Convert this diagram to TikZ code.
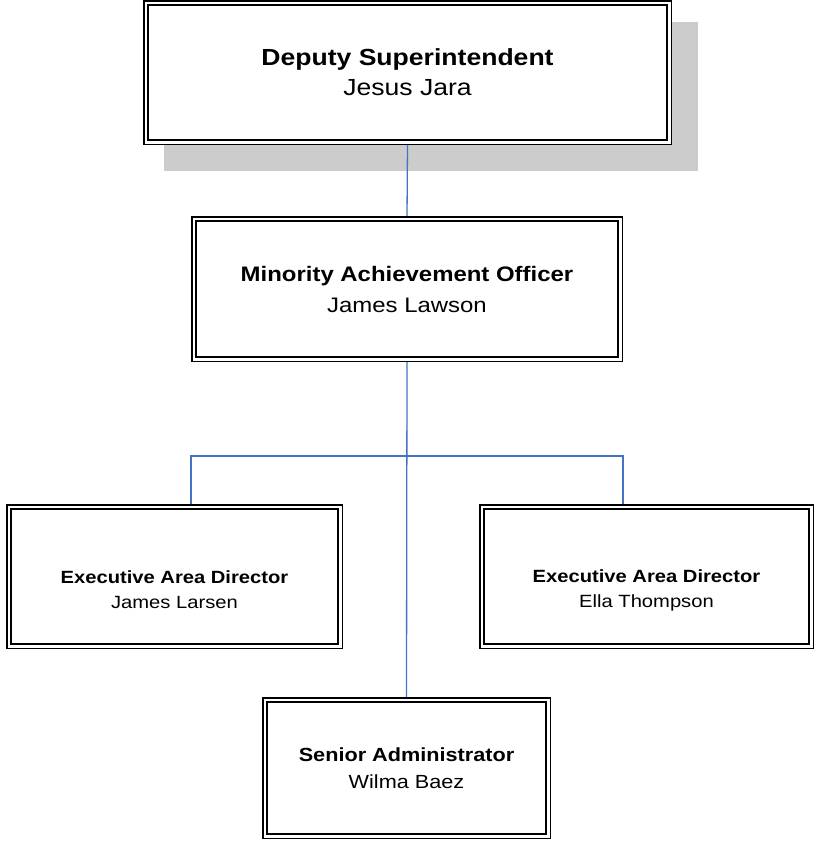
\documentclass[tikz,border=0pt]{standalone}
\usepackage{fontspec}
\setmainfont{Liberation Sans}[FakeStretch=1.14]
\usetikzlibrary{backgrounds}

\tikzset{
    orgbox/.style={rectangle,draw=black,fill=white,line width=1.5pt,double=white,double distance=2.6pt,align=center,inner sep=0pt},
    link/.style={draw={rgb,255:red,68;green,114;blue,196},line width=1.3pt},
}

\begin{document}
\begin{tikzpicture}[x=1pt,y=-1pt]
    \useasboundingbox (0,0) rectangle (815,841);
    %\centering
    \node[orgbox,minimum width=523.4pt,minimum height=139.4pt,font=\fontsize{23.3}{30}\selectfont] at (407.5,72.5) (dep) {\textbf{Deputy Superintendent}\\Jesus Jara};
    \node[orgbox,minimum width=426.4pt,minimum height=140.4pt,font=\fontsize{21}{31}\selectfont] at (407,289) (ach) {\textbf{Minority Achievement Officer}\\James Lawson};
    \node[orgbox,minimum width=331.4pt,minimum height=139.4pt] at (174.5,576.5) (dirL) {};
    \node[align=center,font=\fontsize{17.7}{25}\selectfont] at ([yshift=-13.5pt]dirL.center) (dirLtext) {\textbf{Executive Area Director}\\James Larsen};
    \node[orgbox,minimum width=329.4pt,minimum height=139.4pt] at (646.5,576.5) (dirR) {};
    \node[align=center,font=\fontsize{17.7}{25}\selectfont] at ([yshift=-13.5pt]dirR.center) (dirRtext) {\textbf{Executive Area Director}\\Ella Thompson};
    \node[orgbox,minimum width=283.4pt,minimum height=136.4pt,font=\fontsize{19}{26.5}\selectfont] at (406.5,768) (sen) {\textbf{Senior Administrator}\\Wilma Baez};
    \coordinate (busL) at (191,456);
    \coordinate (busR) at (623,456);
    \begin{scope}[on background layer]
        \fill[fill={rgb,255:red,204;green,204;blue,204}] ([shift={(19,20)}]dep.north west) rectangle ([shift={(28,28)}]dep.south east);
        \draw[link] (dep.south) -- (ach.north);
        \draw[link] (ach.south) -- (sen.north);
        \draw[link] (busL |- dirL.north) -- (busL) -- (busR) -- (busR |- dirR.north);
    \end{scope}
\end{tikzpicture}
\end{document}
